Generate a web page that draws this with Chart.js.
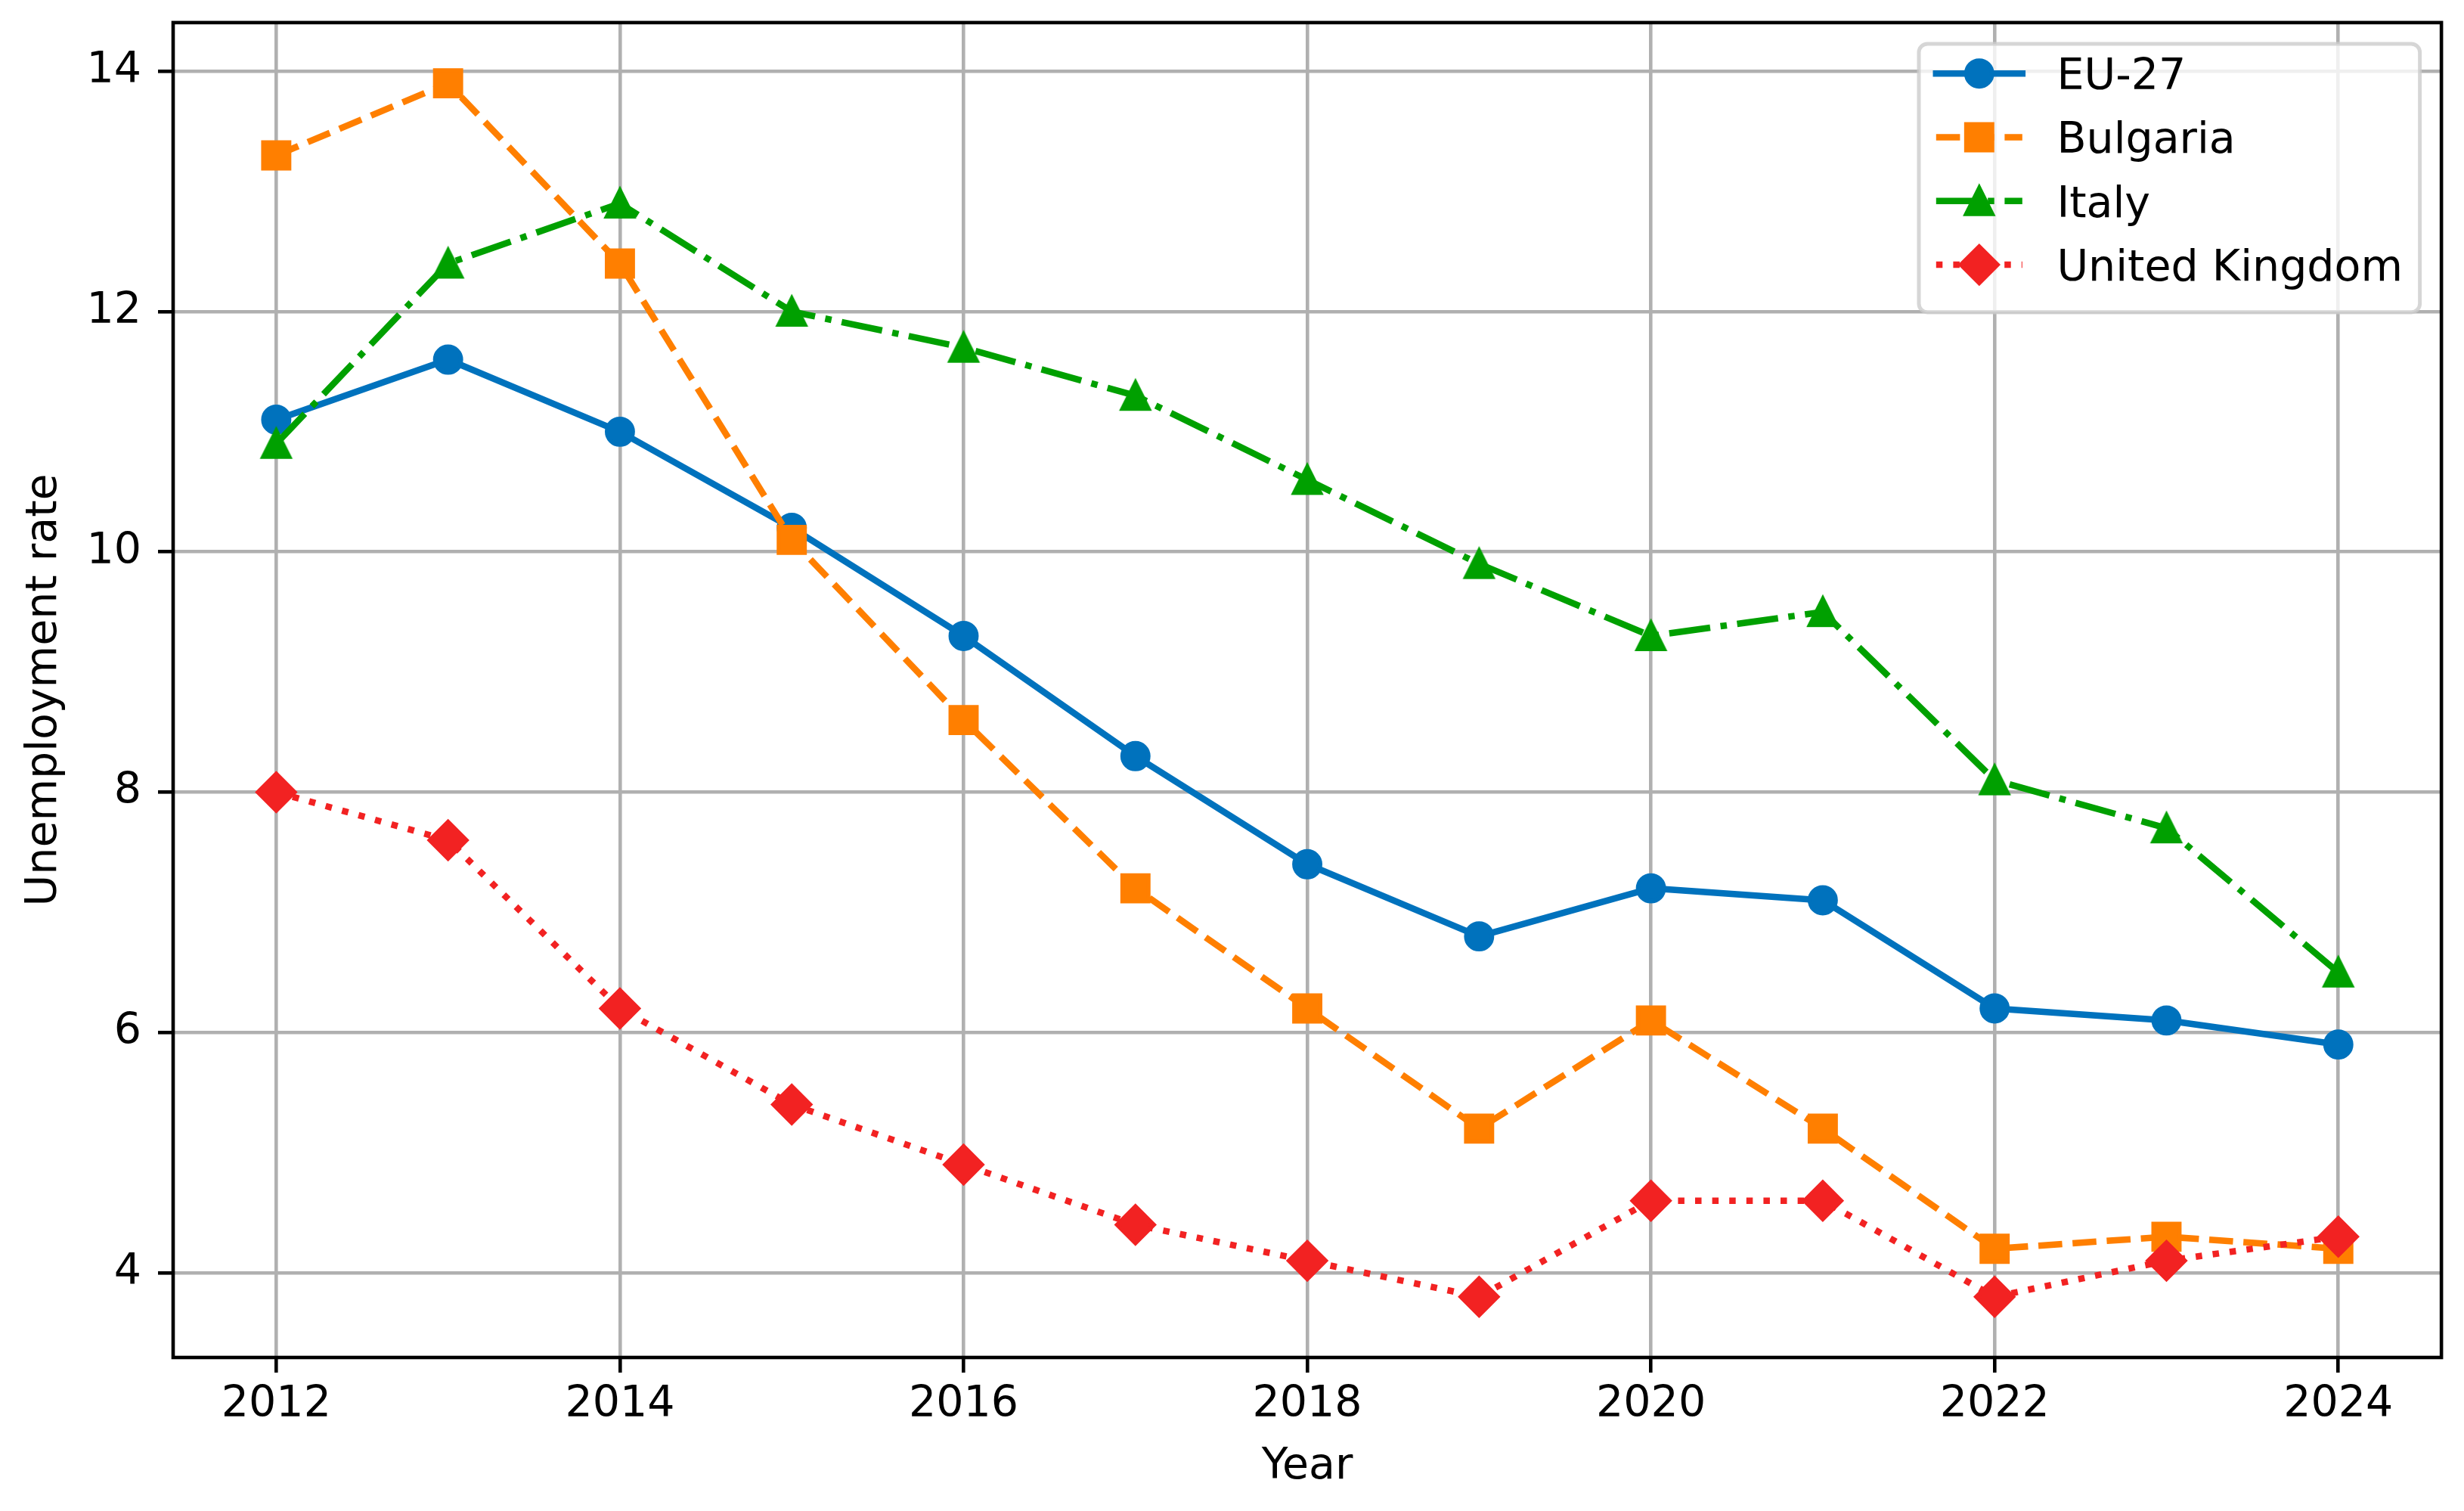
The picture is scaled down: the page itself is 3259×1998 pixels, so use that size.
<!DOCTYPE html>
<html>
<head>
<meta charset="utf-8">
<script src="https://cdn.jsdelivr.net/npm/chart.js@4.4.1/dist/chart.umd.min.js"></script>
<style>
html,body{margin:0;padding:0;background:#ffffff;}
canvas{display:block;}
</style>
</head>
<body>
<canvas id="chart" width="3259" height="1998"></canvas>
<script>
// ---- data ----
const years = [2012, 2013, 2014, 2015, 2016, 2017, 2018, 2019, 2020, 2021, 2022, 2023, 2024];
const eu27 = [11.1, 11.6, 11.0, 10.2, 9.3, 8.3, 7.4, 6.8, 7.2, 7.1, 6.2, 6.1, 5.9];
const bulgaria = [13.3, 13.9, 12.4, 10.1, 8.6, 7.2, 6.2, 5.2, 6.1, 5.2, 4.2, 4.3, 4.2];
const italy = [10.9, 12.4, 12.9, 12.0, 11.7, 11.3, 10.6, 9.9, 9.3, 9.5, 8.1, 7.7, 6.5];
const unitedKingdom = [8.0, 7.6, 6.2, 5.4, 4.9, 4.4, 4.1, 3.8, 4.6, 4.6, 3.8, 4.1, 4.3];
const seriesNames = ['EU-27', 'Bulgaria', 'Italy', 'United Kingdom'];
const xTicks = [2012, 2014, 2016, 2018, 2020, 2022, 2024];
const yTicks = [4, 6, 8, 10, 12, 14];
const xTitle = 'Year';
const yTitle = 'Unemployment rate';

// ---- styles ----
const FONT = 'DejaVu Sans';
const FS = 57;
const LW = 8.54;          // line width
const MEW = 5.7;          // marker edge width
const MS = 34.2;          // marker size
const colors = ['#0072BD', '#FF7F00', '#00A000', '#F22222'];
const dashes = [[], [31.6, 13.7], [54.7, 13.7, 8.5, 13.7], [8.5, 14.1]];
const markers = ['circle', 'square', 'triangle', 'diamond'];
const AREA = {left: 229, top: 24, right: 3236, bottom: 1795};

// axis limits with 5% margins (like matplotlib autoscale)
const allVals = eu27.concat(bulgaria, italy, unitedKingdom);
const yMinD = Math.min(...allVals), yMaxD = Math.max(...allVals);
const xMinD = Math.min(...years), xMaxD = Math.max(...years);
const yPad = (yMaxD - yMinD) * 0.05, xPad = (xMaxD - xMinD) * 0.05;

function triangleCanvas(color) {
  const s = 56;
  const c = document.createElement('canvas');
  c.width = s; c.height = s;
  const g = c.getContext('2d');
  const h = MS / 2;
  g.translate(s / 2, s / 2);
  g.beginPath();
  g.moveTo(0, -h); g.lineTo(-h, h); g.lineTo(h, h); g.closePath();
  g.fillStyle = color; g.fill();
  g.lineJoin = 'miter'; g.lineWidth = MEW; g.strokeStyle = color; g.stroke();
  return c;
}

const seriesValues = [eu27, bulgaria, italy, unitedKingdom];
const pointCfg = [
  {style: 'circle', radius: MS / 2},
  {style: 'rect', radius: MS / 2 / Math.SQRT1_2},
  {style: triangleCanvas(colors[2]), radius: 20},
  {style: 'rectRot', radius: MS / 2 / Math.SQRT1_2}
];

const datasets = seriesValues.map((vals, i) => ({
  label: seriesNames[i],
  data: years.map((yr, j) => ({x: yr, y: vals[j]})),
  borderColor: colors[i],
  backgroundColor: colors[i],
  borderWidth: LW,
  borderDash: dashes[i],
  borderCapStyle: i === 0 ? 'square' : 'butt',
  borderJoinStyle: 'round',
  tension: 0,
  fill: false,
  pointStyle: pointCfg[i].style,
  pointRadius: pointCfg[i].radius,
  pointBorderWidth: MEW,
  pointBorderColor: colors[i],
  pointBackgroundColor: colors[i],
  order: 3 - i
}));

function drawMarker(ctx, kind, x, y, color) {
  ctx.save();
  ctx.fillStyle = color; ctx.strokeStyle = color;
  ctx.lineWidth = MEW; ctx.lineJoin = 'miter'; ctx.setLineDash([]);
  const h = MS / 2;
  ctx.beginPath();
  if (kind === 'circle') {
    ctx.arc(x, y, h, 0, Math.PI * 2);
  } else if (kind === 'square') {
    ctx.rect(x - h, y - h, MS, MS);
  } else if (kind === 'triangle') {
    ctx.moveTo(x, y - h); ctx.lineTo(x - h, y + h); ctx.lineTo(x + h, y + h); ctx.closePath();
  } else {
    const d = h / Math.SQRT1_2;
    ctx.moveTo(x, y - d); ctx.lineTo(x + d, y); ctx.lineTo(x, y + d); ctx.lineTo(x - d, y); ctx.closePath();
  }
  ctx.fill(); ctx.stroke();
  ctx.restore();
}

const framePlugin = {
  id: 'frame',
  afterDatasetsDraw(chart) {
    const {ctx, chartArea: a} = chart;
    ctx.save();
    ctx.strokeStyle = '#000';
    ctx.lineWidth = 4.6;
    ctx.lineJoin = 'miter';
    ctx.setLineDash([]);
    ctx.strokeRect(a.left, a.top, a.right - a.left, a.bottom - a.top);
    ctx.restore();
  }
};

const legendPlugin = {
  id: 'mplLegend',
  afterDraw(chart) {
    const {ctx, chartArea: a} = chart;
    const pad = 0.5 * FS;
    const bx = 2538, by = a.top + 28, bw = a.right - pad - bx, bh = 355, r = 0.2 * FS;
    ctx.save();
    ctx.beginPath();
    ctx.roundRect(bx, by, bw, bh, r);
    ctx.fillStyle = 'rgba(255,255,255,0.8)';
    ctx.fill();
    ctx.lineWidth = 5;
    ctx.strokeStyle = 'rgba(204,204,204,0.8)';
    ctx.stroke();
    const hx0 = bx + 0.4 * FS, hx1 = hx0 + 2 * FS, hxm = (hx0 + hx1) / 2;
    const tx = hx1 + 0.8 * FS;
    chart.data.datasets.forEach((ds, i) => {
      const base = 118 + i * 84.3;
      const my = base - 20.8;
      ctx.save();
      ctx.beginPath();
      ctx.moveTo(hx0, my); ctx.lineTo(hx1, my);
      ctx.strokeStyle = ds.borderColor;
      ctx.lineWidth = LW;
      ctx.lineCap = ds.borderCapStyle;
      ctx.setLineDash(ds.borderDash);
      ctx.stroke();
      ctx.restore();
      drawMarker(ctx, markers[i], hxm, my, ds.borderColor);
      ctx.fillStyle = '#000';
      ctx.font = FS + 'px "' + FONT + '"';
      ctx.textAlign = 'left';
      ctx.textBaseline = 'alphabetic';
      ctx.fillText(ds.label, tx, base);
    });
    ctx.restore();
  }
};

const whiteBg = {
  id: 'whiteBg',
  beforeDraw(chart) {
    const {ctx} = chart;
    ctx.save();
    ctx.fillStyle = '#fff';
    ctx.fillRect(0, 0, chart.width, chart.height);
    ctx.restore();
  }
};

const tickFont = {family: FONT, size: FS, lineHeight: 1.2};

const chart = new Chart(document.getElementById('chart'), {
  type: 'line',
  data: {datasets},
  options: {
    responsive: false,
    animation: false,
    devicePixelRatio: 1,
    events: [],
    layout: {padding: {top: AREA.top, right: 3259 - AREA.right, left: 0, bottom: 0}},
    plugins: {legend: {display: false}, tooltip: {enabled: false}, title: {display: false}},
    scales: {
      x: {
        type: 'linear',
        min: xMinD - xPad,
        max: xMaxD + xPad,
        afterBuildTicks: s => { s.ticks = xTicks.map(v => ({value: v})); },
        afterFit: s => { s.height = 1998 - AREA.bottom; s.paddingLeft = 0; s.paddingRight = 0; },
        ticks: {color: '#000', font: tickFont, padding: 9, maxRotation: 0, autoSkip: false,
                callback: v => String(v)},
        grid: {color: '#b0b0b0', lineWidth: 4.6, tickColor: '#000', tickWidth: 4.6, tickLength: 20, drawTicks: true},
        border: {display: false},
        title: {display: true, text: xTitle, color: '#000', font: tickFont, padding: {top: 0, bottom: 23.5}}
      },
      y: {
        type: 'linear',
        min: yMinD - yPad,
        max: yMaxD + yPad,
        afterBuildTicks: s => { s.ticks = yTicks.map(v => ({value: v})); },
        afterFit: s => { s.width = AREA.left; s.paddingTop = 0; s.paddingBottom = 0; },
        ticks: {color: '#000', font: tickFont, padding: 22, autoSkip: false,
                callback: v => String(v)},
        grid: {color: '#b0b0b0', lineWidth: 4.6, tickColor: '#000', tickWidth: 4.6, tickLength: 20, drawTicks: true},
        border: {display: false},
        title: {display: true, text: yTitle, color: '#000', font: tickFont, padding: {top: 25, bottom: 0}}
      }
    }
  },
  plugins: [whiteBg, framePlugin, legendPlugin]
});

// nudge layout padding so the plot area lands exactly on the target box
for (let k = 0; k < 4; k++) {
  const ca = chart.chartArea;
  const p = chart.options.layout.padding;
  const dTop = AREA.top - ca.top;
  const dRight = ca.right - AREA.right;
  const dBottom = ca.bottom - AREA.bottom;
  const dLeft = AREA.left - ca.left;
  if (Math.abs(dTop) < 0.3 && Math.abs(dRight) < 0.3 && Math.abs(dBottom) < 0.3 && Math.abs(dLeft) < 0.3) break;
  chart.options.layout.padding = {
    top: p.top + dTop, right: p.right + dRight,
    bottom: Math.max(0, p.bottom + dBottom), left: Math.max(0, p.left + dLeft)
  };
  chart.update();
}
</script>
</body>
</html>
